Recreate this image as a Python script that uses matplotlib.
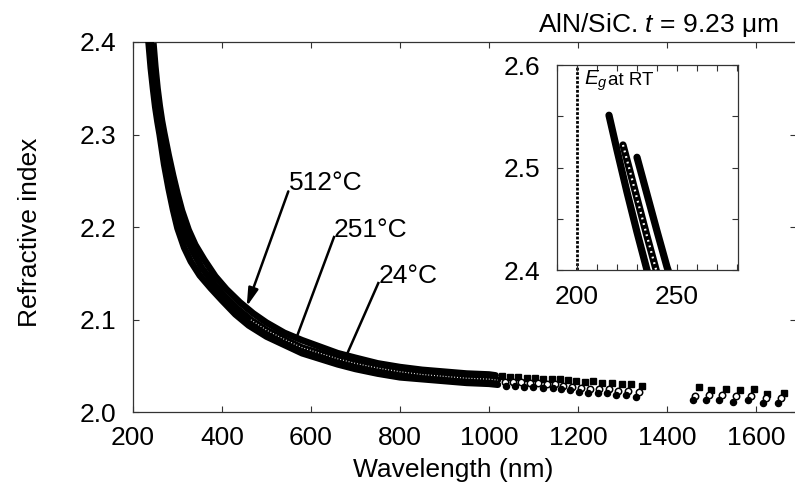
import matplotlib
matplotlib.use("Agg")
import matplotlib.pyplot as plt
from matplotlib.ticker import MultipleLocator, FormatStrFormatter

plt.rcParams['font.family'] = ['Liberation Sans', 'DejaVu Sans']
plt.rcParams['mathtext.fontset'] = 'custom'
plt.rcParams['mathtext.rm'] = 'Liberation Sans'
plt.rcParams['mathtext.it'] = 'Liberation Sans:italic'

# ---------------- data ----------------
# 24 C  (filled circles) -- dense part, drawn as a solid band
lam_24_band = [216, 220, 225, 230, 235, 240, 245, 250, 255, 260, 270, 280, 290, 300,
               315, 330, 350, 375, 400, 430, 460, 500, 540, 580, 620, 660, 700, 750,
               800, 850, 900, 950, 1000, 1020]
n_24_band = [2.551, 2.517, 2.476, 2.437, 2.400, 2.372, 2.350, 2.330, 2.314, 2.300, 2.268,
             2.242, 2.219, 2.199, 2.178, 2.163, 2.148, 2.134, 2.121, 2.106, 2.094, 2.082,
             2.073, 2.064, 2.058, 2.052, 2.047, 2.042, 2.038, 2.036, 2.034, 2.032, 2.031, 2.030]
# 24 C discrete points
lam_24_pts = [1038, 1059, 1079, 1100, 1122, 1143, 1162, 1182, 1203, 1223, 1244, 1265,
              1285, 1308, 1330, 1459, 1488, 1518, 1548, 1583, 1615, 1650]
n_24_pts = [2.0290, 2.0286, 2.0279, 2.0279, 2.0261, 2.0261, 2.0250, 2.0243, 2.0225, 2.0207,
            2.0214, 2.0207, 2.0189, 2.0189, 2.0171, 2.0135, 2.0135, 2.0135, 2.0117, 2.0135,
            2.0106, 2.0099]

# 251 C  (open circles)
lam_251_band = [223, 226, 230, 235, 240, 245, 250, 255, 260, 265, 275, 285, 295, 305,
                320, 335, 355, 380, 405, 435, 465, 500, 540, 580, 620, 660, 700, 750,
                800, 850, 900, 950, 1000, 1020]
n_251_band = [2.522, 2.500, 2.470, 2.433, 2.397, 2.370, 2.348, 2.329, 2.313, 2.300, 2.274,
              2.251, 2.230, 2.211, 2.189, 2.173, 2.156, 2.140, 2.126, 2.112, 2.100, 2.089,
              2.079, 2.070, 2.064, 2.058, 2.053, 2.048, 2.044, 2.041, 2.039, 2.037, 2.036, 2.035]
lam_251_pts = [1036, 1055, 1073, 1092, 1111, 1130, 1148, 1167, 1186, 1206, 1227, 1248,
               1270, 1291, 1313, 1336, 1464, 1494, 1524, 1555, 1588, 1622, 1656]
n_251_pts = [2.0333, 2.0330, 2.0326, 2.0320, 2.0315, 2.0310, 2.0304, 2.0290, 2.0279, 2.0268,
             2.0258, 2.0258, 2.0250, 2.0236, 2.0236, 2.0225, 2.0182, 2.0189, 2.0189, 2.0178,
             2.0182, 2.0154, 2.0154]

# 512 C  (filled squares)
lam_512_band = [230, 235, 240, 245, 250, 255, 260, 265, 270, 280, 290, 300, 310, 325,
                340, 360, 385, 410, 440, 470, 500, 540, 580, 620, 660, 700, 750, 800,
                850, 900, 950, 1000, 1015]
n_512_band = [2.510, 2.474, 2.438, 2.403, 2.374, 2.350, 2.331, 2.315, 2.302, 2.278, 2.256,
              2.236, 2.218, 2.197, 2.181, 2.165, 2.147, 2.133, 2.119, 2.107, 2.097, 2.086,
              2.078, 2.071, 2.064, 2.059, 2.053, 2.049, 2.046, 2.044, 2.042, 2.041, 2.040]
lam_512_pts = [1029, 1048, 1066, 1085, 1104, 1122, 1141, 1160, 1178, 1196, 1216, 1234,
               1255, 1276, 1298, 1319, 1343, 1473, 1500, 1532, 1563, 1596, 1625, 1664]
n_512_pts = [2.0394, 2.0387, 2.0380, 2.0377, 2.0370, 2.0366, 2.0359, 2.0359, 2.0351, 2.0344,
             2.0333, 2.0344, 2.0322, 2.0322, 2.0308, 2.0308, 2.0286, 2.0272, 2.0243, 2.0251,
             2.0243, 2.0251, 2.0200, 2.0208]

x_ticks = [200, 400, 600, 800, 1000, 1200, 1400, 1600]
y_ticks = [2.0, 2.1, 2.2, 2.3, 2.4]
inset_x_ticks = [200, 250]
inset_y_ticks = [2.4, 2.5, 2.6]
temp_labels = ["512°C", "251°C", "24°C"]
title_text = "AlN/SiC. $t$ = 9.23 μm"
eg_value = 200

FS = 19
BAND_LW = 4.8

fig = plt.figure(figsize=(7.95, 4.94), dpi=100)
ax = fig.add_axes([0.1673, 0.165, 0.8340, 0.750])


def draw_series(a, lw_band, dots_lw, dots_from):
    a.plot(lam_512_band, n_512_band, color='k', lw=lw_band,
           solid_capstyle='round', solid_joinstyle='round', zorder=2)
    a.plot(lam_251_band, n_251_band, color='k', lw=lw_band,
           solid_capstyle='round', solid_joinstyle='round', zorder=3)
    a.plot(lam_24_band, n_24_band, color='k', lw=lw_band,
           solid_capstyle='round', solid_joinstyle='round', zorder=4)
    sel = [i for i, v in enumerate(lam_251_band) if v >= dots_from]
    a.plot([lam_251_band[i] for i in sel], [n_251_band[i] for i in sel],
           color='white', lw=dots_lw, ls=(0, (0.8, 1.8)), zorder=5)
    a.plot(lam_512_pts, n_512_pts, ls='none', marker='s', ms=5.0, color='k', zorder=2)
    a.plot(lam_251_pts, n_251_pts, ls='none', marker='o', ms=4.6, mfc='white',
           mec='k', mew=1.1, zorder=3)
    a.plot(lam_24_pts, n_24_pts, ls='none', marker='o', ms=4.4, color='k', zorder=4)


draw_series(ax, BAND_LW, 0.8, 440)

ax.set_xlim(200, 1690)
ax.set_ylim(2.0, 2.4)
ax.set_xticks(x_ticks)
ax.set_yticks(y_ticks)
ax.yaxis.set_major_formatter(FormatStrFormatter('%.1f'))
ax.tick_params(direction='in', length=4, width=0.8, top=True, right=True,
               labelsize=FS, color='#333333')
ax.tick_params(axis='x', pad=10)
ax.tick_params(axis='y', pad=12)
for s in ax.spines.values():
    s.set_linewidth(0.9)
    s.set_color('#333333')

# annotations
ax.annotate("", xy=(455.5, 2.1144), xytext=(549, 2.2387),
            arrowprops=dict(arrowstyle='-|>,head_length=0.9,head_width=0.25', color='k',
                            lw=1.8, mutation_scale=12, shrinkA=0, shrinkB=0))
ax.text(550, 2.2405, temp_labels[0], fontsize=FS, ha='left', va='baseline')
ax.plot([651.7, 567.8], [2.1894, 2.0813], color='k', lw=1.8, zorder=6)
ax.text(651.7, 2.1894, temp_labels[1], fontsize=FS, ha='left', va='baseline')
ax.plot([751.3, 680.2], [2.1397, 2.0622], color='k', lw=1.8, zorder=6)
ax.text(751.3, 2.1397, temp_labels[2], fontsize=FS, ha='left', va='baseline')

fig.text(0.9786, 0.935, title_text, fontsize=FS, ha='right', va='baseline')
fig.text(0.570, 0.049, "Wavelength (nm)", fontsize=FS, ha='center', va='center')
fig.text(0.0377, 0.530, "Refractive index", fontsize=FS, ha='center', va='center',
         rotation=90)

# ---------------- inset ----------------
axi = fig.add_axes([0.7006, 0.4534, 0.2277, 0.4150])
axi.set_facecolor('white')
draw_series(axi, 5.2, 1.6, 0)
axi.axvline(eg_value, color='k', lw=2.0, ls=(0, (1.0, 0.6)), zorder=1)
axi.set_xlim(190, 280.5)
axi.set_ylim(2.4, 2.6)
axi.set_xticks(inset_x_ticks)
axi.set_yticks(inset_y_ticks)
axi.yaxis.set_major_formatter(FormatStrFormatter('%.1f'))
axi.xaxis.set_minor_locator(MultipleLocator(10))
axi.yaxis.set_minor_locator(MultipleLocator(0.05))
axi.tick_params(which='both', direction='in', length=4, width=0.8, top=True,
                right=True, labelsize=FS, color='#333333')
axi.tick_params(axis='x', pad=11)
axi.tick_params(axis='y', pad=12)
for s in axi.spines.values():
    s.set_linewidth(0.9)
    s.set_color('#333333')
axi.text(203.5, 2.5805, "$E_g$", fontsize=15, ha='left', va='baseline')
axi.text(215.5, 2.5805, "at RT", fontsize=13.5, ha='left', va='baseline')

fig.savefig("out.png", dpi=100)
